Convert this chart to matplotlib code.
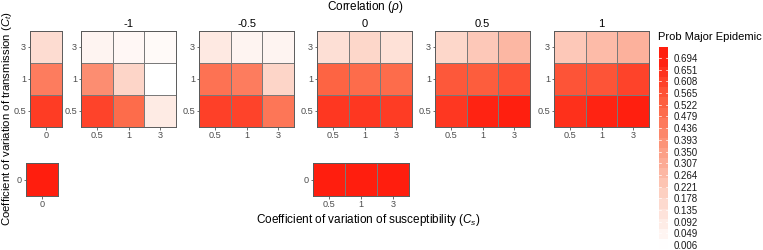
import numpy as np
import matplotlib
matplotlib.use('Agg')
import matplotlib.pyplot as plt
from matplotlib.colors import LinearSegmentedColormap

plt.rcParams['font.family'] = ['Liberation Sans', 'DejaVu Sans']
plt.rcParams['mathtext.fontset'] = 'custom'
plt.rcParams['mathtext.rm'] = 'Liberation Sans'
plt.rcParams['mathtext.it'] = 'Liberation Sans:italic'

# correlation panels, rows = Ct (0.5, 1, 3), cols = Cs (0.5, 1, 3)
rhos = ['-1', '-0.5', '0', '0.5', '1']
cs_labels = ['0.5', '1', '3']
ct_labels = ['0.5', '1', '3']
p_rho_m1 = [[0.60, 0.50, 0.09],
            [0.40, 0.18, 0.006],
            [0.05, 0.04, 0.03]]
p_rho_m05 = [[0.61, 0.60, 0.47],
             [0.48, 0.45, 0.18],
             [0.10, 0.05, 0.05]]
p_rho_0 = [[0.63, 0.63, 0.62],
           [0.52, 0.50, 0.50],
           [0.14, 0.17, 0.13]]
p_rho_05 = [[0.63, 0.68, 0.69],
            [0.55, 0.54, 0.57],
            [0.17, 0.22, 0.27]]
p_rho_1 = [[0.65, 0.68, 0.69],
           [0.56, 0.56, 0.60],
           [0.22, 0.26, 0.29]]
# Cs = 0 column (Ct = 0.5, 1, 3)
p_cs0 = [0.62, 0.45, 0.15]
# Ct = 0 row (Cs = 0.5, 1, 3), and Cs = Ct = 0
p_ct0 = [0.694, 0.694, 0.694]
p_00 = 0.694

legend_breaks = np.round(np.linspace(0.006, 0.694, 17), 3)

W, H = 763, 250
fig = plt.figure(figsize=(W / 100, H / 100), dpi=100)

cmap = LinearSegmentedColormap.from_list(
    'wr', [(0.0, '#ffffff'), (0.25, '#fdd5c8'), (0.5, '#fc9e84'),
           (0.75, '#fd6443'), (1.0, '#ff1e0e')])
vmin, vmax = 0.006, 0.694

edge = '#7a7a7a'
tick_col = '#4d4d4d'


def px_axes(x0, y0, x1, y1):
    return fig.add_axes([x0 / W, 1 - y1 / H, (x1 - x0) / W, (y1 - y0) / H])


def heat(ax, vals, xlabs, ylabs):
    vals = np.atleast_2d(vals)
    ax.pcolormesh(vals, cmap=cmap, vmin=vmin, vmax=vmax,
                  edgecolors=edge, linewidth=0.7)
    ax.set_xlim(0, vals.shape[1])
    ax.set_ylim(0, vals.shape[0])
    ax.set_xticks(np.arange(vals.shape[1]) + 0.5)
    ax.set_xticklabels(xlabs)
    ax.set_yticks(np.arange(vals.shape[0]) + 0.5)
    ax.set_yticklabels(ylabs)
    ax.tick_params(length=1.8, width=0.5, color='#333333', labelcolor=tick_col,
                   labelsize=6.6, pad=1)
    for s in ax.spines.values():
        s.set_color('#5a5a5a')
        s.set_linewidth(0.7)


ax = px_axes(30, 31, 62, 127)
heat(ax, np.array(p_cs0)[:, None], ['0'], ct_labels)

panel_x = [81, 199, 317, 435, 554]
panels = [p_rho_m1, p_rho_m05, p_rho_0, p_rho_05, p_rho_1]
for x0, rho, vals in zip(panel_x, rhos, panels):
    ax = px_axes(x0, 31, x0 + 95, 127)
    heat(ax, vals, cs_labels, ct_labels)
    ax.set_title(rho, fontsize=8, pad=3)

ax = px_axes(26, 163, 58, 196)
heat(ax, [[p_00]], ['0'], ['0'])
ax = px_axes(313, 163, 409, 196)
heat(ax, [p_ct0], cs_labels, ['0'])

fig.text(365 / W, 1 - 7 / H, r'Correlation ($\rho$)', ha='center', va='center', fontsize=8.5)
fig.text(368 / W, 1 - 220 / H, r'Coefficient of variation of susceptibility ($C_s$)',
         ha='center', va='center', fontsize=8.5)
fig.text(7 / W, 1 - 118 / H, r'Coefficient of variation of transmission ($C_t$)',
         ha='center', va='center', rotation=90, fontsize=8.2)

# stepped colour bar
bar_lo, bar_hi = -0.0087, 0.7345
cax = px_axes(659, 47, 668, 249)
edges = np.linspace(bar_lo, bar_hi, 21)
mids = (edges[:-1] + edges[1:]) / 2
cax.pcolormesh([0, 1], edges, mids[:, None], cmap=cmap, vmin=vmin, vmax=vmax)
cax.set_ylim(bar_lo, bar_hi)
cax.set_xlim(0, 1)
cax.set_xticks([])
cax.yaxis.tick_right()
cax.set_yticks(legend_breaks)
cax.set_yticklabels(['%.3f' % b for b in legend_breaks])
cax.tick_params(axis='y', length=0, labelsize=7, labelcolor='#1a1a1a', pad=4)
for b in legend_breaks:
    cax.plot([0, 0.2], [b, b], color='white', lw=0.5)
    cax.plot([0.8, 1], [b, b], color='white', lw=0.5)
for s in cax.spines.values():
    s.set_visible(False)
fig.text(658 / W, 1 - 37 / H, 'Prob Major Epidemic', ha='left', va='center', fontsize=8)

fig.savefig('out.png', dpi=100)
